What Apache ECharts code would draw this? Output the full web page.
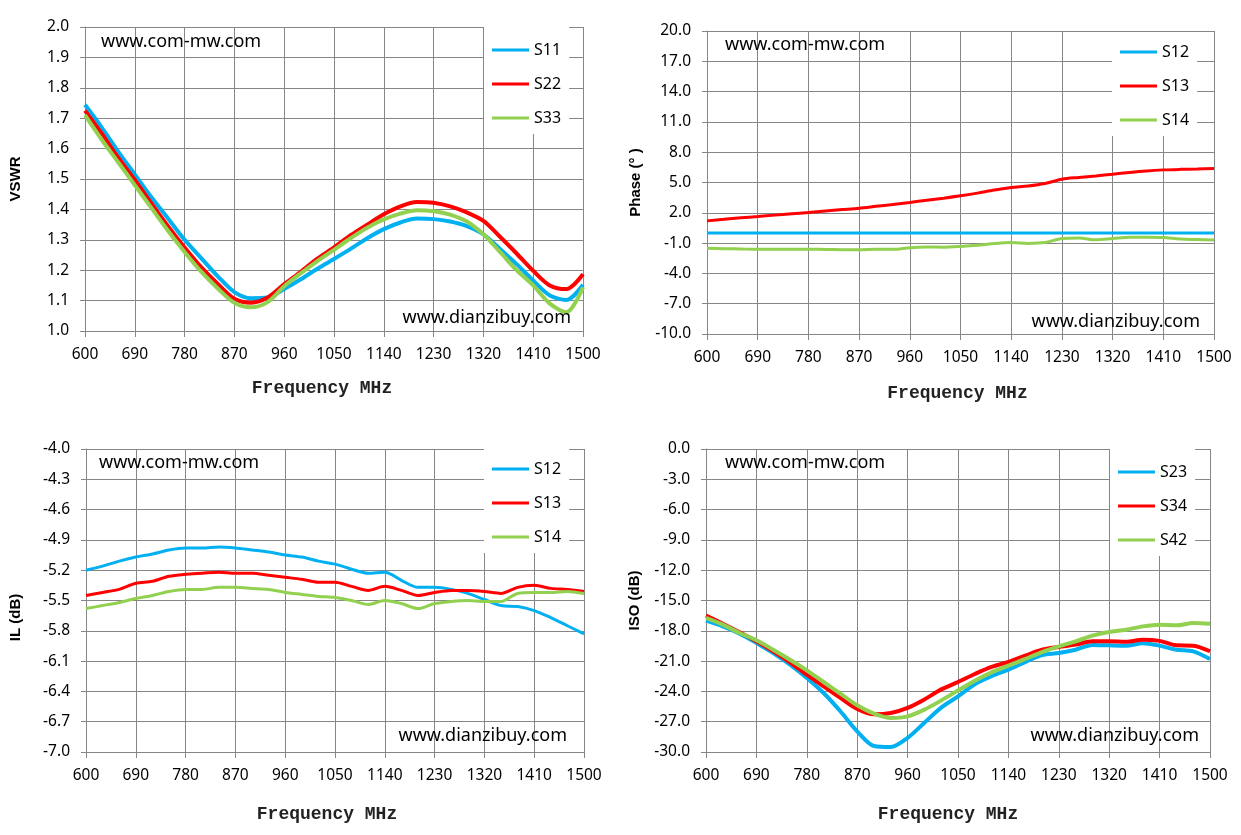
<!DOCTYPE html>
<html>
<head>
<meta charset="utf-8">
<script src="https://cdn.jsdelivr.net/npm/echarts@6/dist/echarts.min.js"></script>
<style>
html, body { margin: 0; background: #fff; }
#main { width: 1241px; height: 835px; }
</style>
</head>
<body>
<div id="main"></div>
<script>
// frequency points (MHz), sampled every 30 MHz
var freq = [600, 630, 660, 690, 720, 750, 780, 810, 840, 870, 900, 930, 960, 990, 1020, 1050,
            1080, 1110, 1140, 1170, 1200, 1230, 1260, 1290, 1320, 1350, 1380, 1410, 1440, 1470, 1500];

// VSWR
var s11 = [1.744, 1.67, 1.59, 1.515, 1.44, 1.37, 1.30, 1.24, 1.18, 1.128, 1.108, 1.11, 1.138, 1.17, 1.205, 1.237,
           1.27, 1.305, 1.335, 1.357, 1.37, 1.368, 1.36, 1.345, 1.318, 1.27, 1.22, 1.166, 1.117, 1.102, 1.152];
var s22 = [1.725, 1.65, 1.57, 1.497, 1.42, 1.345, 1.275, 1.21, 1.155, 1.106, 1.093, 1.11, 1.154, 1.195, 1.238, 1.275,
           1.315, 1.35, 1.384, 1.41, 1.424, 1.422, 1.41, 1.39, 1.362, 1.31, 1.255, 1.198, 1.15, 1.138, 1.187];
var s33 = [1.71, 1.63, 1.555, 1.48, 1.405, 1.33, 1.26, 1.195, 1.14, 1.093, 1.078, 1.095, 1.147, 1.19, 1.23, 1.267,
           1.305, 1.34, 1.367, 1.386, 1.397, 1.394, 1.383, 1.36, 1.318, 1.26, 1.20, 1.15, 1.09, 1.062, 1.144];

// Phase (deg)
var ph12 = [0.0, 0.0, 0.0, 0.0, 0.0, 0.0, 0.0, 0.0, 0.0, 0.0, 0.0, 0.0, 0.0, 0.0, 0.0, 0.0,
            0.0, 0.0, 0.0, 0.0, 0.0, 0.0, 0.0, 0.0, 0.0, 0.0, 0.0, 0.0, 0.0, 0.0, 0.0];
var ph13 = [1.2, 1.35, 1.5, 1.63, 1.77, 1.9, 2.03, 2.18, 2.32, 2.46, 2.64, 2.82, 3.02, 3.25, 3.45, 3.68,
            3.95, 4.25, 4.5, 4.65, 4.9, 5.33, 5.5, 5.65, 5.82, 6.0, 6.15, 6.25, 6.3, 6.33, 6.38];
var ph14 = [-1.5, -1.55, -1.58, -1.62, -1.62, -1.6, -1.6, -1.63, -1.65, -1.66, -1.6, -1.62, -1.45, -1.38, -1.4, -1.33,
            -1.22, -1.05, -0.95, -1.03, -0.95, -0.55, -0.5, -0.67, -0.55, -0.42, -0.42, -0.45, -0.6, -0.65, -0.7];

// IL (dB)
var il12 = [-5.20, -5.16, -5.11, -5.07, -5.04, -5.00, -4.98, -4.98, -4.97, -4.98, -5.00, -5.02, -5.05, -5.07, -5.11, -5.14,
            -5.19, -5.23, -5.22, -5.30, -5.37, -5.37, -5.39, -5.43, -5.49, -5.55, -5.56, -5.60, -5.67, -5.75, -5.83];
var il13 = [-5.45, -5.42, -5.39, -5.33, -5.31, -5.26, -5.24, -5.23, -5.22, -5.23, -5.23, -5.25, -5.27, -5.29, -5.32, -5.32,
            -5.36, -5.40, -5.36, -5.40, -5.45, -5.42, -5.40, -5.40, -5.41, -5.43, -5.37, -5.35, -5.38, -5.39, -5.41];
var il14 = [-5.58, -5.55, -5.52, -5.48, -5.45, -5.41, -5.39, -5.39, -5.37, -5.37, -5.38, -5.39, -5.42, -5.44, -5.46, -5.47,
            -5.50, -5.54, -5.50, -5.53, -5.58, -5.53, -5.51, -5.50, -5.51, -5.51, -5.43, -5.42, -5.42, -5.41, -5.43];

// ISO (dB)
var iso23 = [-17.0, -17.56, -18.28, -19.2, -20.2, -21.35, -22.67, -24.16, -25.97, -27.95, -29.4, -29.5, -28.6, -27.1, -25.6, -24.5,
             -23.3, -22.5, -21.85, -21.1, -20.4, -20.2, -19.87, -19.4, -19.44, -19.47, -19.24, -19.47, -19.87, -20.03, -20.8];
var iso34 = [-16.5, -17.3, -18.15, -19.04, -20.03, -21.12, -22.34, -23.5, -24.65, -25.74, -26.27, -26.14, -25.64, -24.8, -23.8, -23.07,
             -22.28, -21.58, -21.09, -20.46, -19.87, -19.6, -19.37, -19.04, -19.04, -19.08, -18.88, -19.0, -19.44, -19.47, -20.03];
var iso42 = [-16.73, -17.39, -18.22, -18.94, -19.87, -20.86, -21.91, -23.07, -24.22, -25.38, -26.2, -26.63, -26.47, -25.8, -24.9, -23.9,
             -22.94, -22.11, -21.45, -20.79, -20.1, -19.54, -19.04, -18.48, -18.12, -17.89, -17.56, -17.39, -17.46, -17.23, -17.29];

var BLUE = '#00b0f0', RED = '#ff0000', GREEN = '#92d050';
var GRAY = '#868686';
var FONT = 'Noto Sans';

// axes start at 0 so that interval ticks line up; labels add the offset back
var X0 = 600;

function pts(vals, off) {
    return freq.map(function (f, i) { return [f - X0, vals[i] + off]; });
}

function xAx(i, gap, shift) {
    return {
        type: 'value', gridIndex: i, min: 0, max: 900, interval: 90,
        name: 'Frequency MHz', nameLocation: 'middle', nameGap: gap,
        nameTextStyle: { fontFamily: 'Liberation Mono', fontWeight: 'bold', fontSize: 18, color: '#222', padding: [0, shift * 2, 0, 0] },
        axisLine: { onZero: false, lineStyle: { color: GRAY } },
        axisTick: { length: 6, lineStyle: { color: GRAY } },
        axisLabel: { formatter: function (v) { return String(v + X0); }, margin: 16, fontSize: 15.5, color: '#000', fontFamily: FONT },
        splitLine: { lineStyle: { color: GRAY } }
    };
}

function yAx(i, min, max, interval, off, name, gap, pad) {
    return {
        type: 'value', gridIndex: i, min: min, max: max, interval: interval,
        name: name, nameLocation: 'middle', nameGap: gap,
        nameTextStyle: { fontFamily: 'Liberation Sans', fontWeight: 'bold', fontSize: 15, color: '#000', padding: pad },
        axisLine: { show: true, onZero: false, lineStyle: { color: GRAY } },
        axisTick: { show: true, length: 5, lineStyle: { color: GRAY } },
        axisLabel: { formatter: function (v) { return (v - off).toFixed(1); }, margin: 16, fontSize: 15.5, color: '#000', fontFamily: FONT },
        splitLine: { lineStyle: { color: GRAY } }
    };
}

function line(name, color, data, idx, width) {
    return {
        name: name, type: 'line', xAxisIndex: idx, yAxisIndex: idx,
        data: data, showSymbol: false, smooth: 0.3,
        lineStyle: { color: color, width: width }, itemStyle: { color: color },
        emphasis: { disabled: true }
    };
}

function legend(left, top, padTop, names) {
    return {
        orient: 'vertical', left: left, top: top,
        backgroundColor: '#fff', padding: [padTop, 8, 8, 8],
        itemGap: 18, icon: 'rect', itemWidth: 37, itemHeight: 3,
        textStyle: { fontFamily: FONT, fontSize: 16, lineHeight: 16, color: '#000' },
        data: names, selectedMode: false
    };
}

function mark(x, y, txt, align) {
    return {
        type: 'text', left: align === 'right' ? null : x, right: align === 'right' ? 1241 - x : null, top: y - 9, z: 10,
        style: { text: txt, fontFamily: FONT, fontSize: 18, fill: '#000' }
    };
}

var chart = echarts.init(document.getElementById('main'));

chart.setOption({
    animation: false,
    backgroundColor: '#fff',
    grid: [
        { left: 85, top: 27, width: 498, height: 304 },
        { left: 707, top: 31, width: 507, height: 303 },
        { left: 86, top: 449, width: 498, height: 303 },
        { left: 706, top: 449, width: 504, height: 303 }
    ],
    xAxis: [xAx(0, 48, 12), xAx(1, 50, 3), xAx(2, 53, 8), xAx(3, 53, 10)],
    yAxis: [
        yAx(0, 1, 2, 0.1, 0, 'VSWR', 62, 0),
        yAx(1, 0, 30, 3, 10, 'Phase (° )', 64, 0),
        yAx(2, 0, 3, 0.3, 7, 'IL (dB)', 63, [0, 34, 0, 0]),
        yAx(3, -30, 0, 3, 0, 'ISO (dB)', 64, 0)
    ],
    legend: [
        legend(484, 27, 15, ['S11', 'S22', 'S33']),
        legend(1112, 32, 12, ['S12', 'S13', 'S14']),
        legend(484, 449, 12, ['S12', 'S13', 'S14']),
        legend(1110, 449, 15, ['S23', 'S34', 'S42'])
    ],
    graphic: [
        mark(101, 42, 'www.com-mw.com'),
        mark(571, 318, 'www.dianzibuy.com', 'right'),
        mark(725, 45, 'www.com-mw.com'),
        mark(1200, 322, 'www.dianzibuy.com', 'right'),
        mark(99, 463, 'www.com-mw.com'),
        mark(567, 736, 'www.dianzibuy.com', 'right'),
        mark(725, 463, 'www.com-mw.com'),
        mark(1199, 736, 'www.dianzibuy.com', 'right')
    ],
    series: [
        line('S11', BLUE, pts(s11, 0), 0, 4),
        line('S22', RED, pts(s22, 0), 0, 4),
        line('S33', GREEN, pts(s33, 0), 0, 4),
        line('S12', BLUE, pts(ph12, 10), 1, 3),
        line('S13', RED, pts(ph13, 10), 1, 3),
        line('S14', GREEN, pts(ph14, 10), 1, 3),
        line('S12', BLUE, pts(il12, 7), 2, 3),
        line('S13', RED, pts(il13, 7), 2, 3),
        line('S14', GREEN, pts(il14, 7), 2, 3),
        line('S23', BLUE, pts(iso23, 0), 3, 4),
        line('S34', RED, pts(iso34, 0), 3, 4),
        line('S42', GREEN, pts(iso42, 0), 3, 4)
    ]
});
</script>
</body>
</html>
